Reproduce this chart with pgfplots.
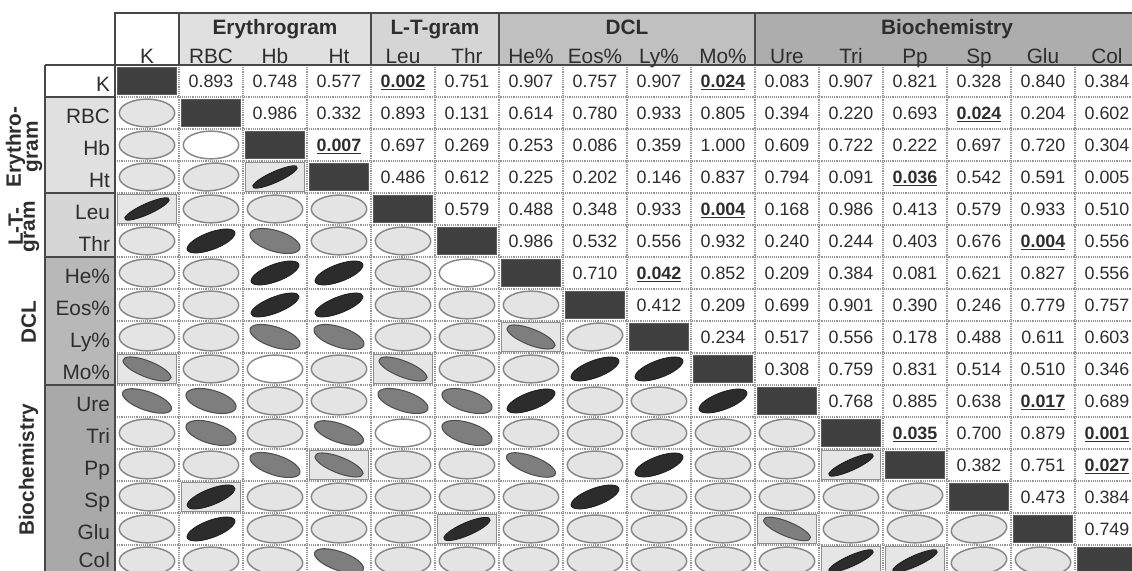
\documentclass[border=0pt]{standalone}
\usepackage{pgfplots}
\pgfplotsset{compat=1.18}
\usepackage{pgfplotstable}
\usepackage{fontspec}
\setmainfont{Liberation Sans}
\definecolor{txt}{HTML}{2E2E2E}
\definecolor{frame}{HTML}{484848}
\definecolor{gridc}{HTML}{949494}
\definecolor{ellL}{HTML}{E4E4E4}
\definecolor{ellLd}{HTML}{878787}
\definecolor{ellW}{HTML}{FFFFFF}
\definecolor{ellM}{HTML}{7E7E7E}
\definecolor{ellMd}{HTML}{505050}
\definecolor{ellD}{HTML}{2C2C2C}
\definecolor{ellDd}{HTML}{1E1E1E}
\definecolor{diag}{HTML}{404040}
\definecolor{diagd}{HTML}{5C5C5C}
\definecolor{hbox}{HTML}{E6E6E6}
\definecolor{hboxd}{HTML}{8E8E8E}
\definecolor{gE}{HTML}{E0E0E0}
\definecolor{gL}{HTML}{D5D5D5}
\definecolor{gD}{HTML}{C0C0C0}
\definecolor{gB}{HTML}{ADADAD}
\definecolor{lL}{HTML}{D6D6D6}
\definecolor{lD}{HTML}{B8B8B8}
\definecolor{lB}{HTML}{A9A9A9}

\newcommand{\numfont}{\fontsize{13.4pt}{15pt}\selectfont}
\newcommand{\labfont}{\fontsize{15.6pt}{18pt}\selectfont}
\newcommand{\grpfont}{\fontsize{15.6pt}{18pt}\selectfont\bfseries}

% p-values (upper triangle): x = column, y = row
\pgfplotstableread{
x y p
1 0 0.893
2 0 0.748
3 0 0.577
5 0 0.751
6 0 0.907
7 0 0.757
8 0 0.907
10 0 0.083
11 0 0.907
12 0 0.821
13 0 0.328
14 0 0.840
15 0 0.384
2 1 0.986
3 1 0.332
4 1 0.893
5 1 0.131
6 1 0.614
7 1 0.780
8 1 0.933
9 1 0.805
10 1 0.394
11 1 0.220
12 1 0.693
14 1 0.204
15 1 0.602
4 2 0.697
5 2 0.269
6 2 0.253
7 2 0.086
8 2 0.359
9 2 1.000
10 2 0.609
11 2 0.722
12 2 0.222
13 2 0.697
14 2 0.720
15 2 0.304
4 3 0.486
5 3 0.612
6 3 0.225
7 3 0.202
8 3 0.146
9 3 0.837
10 3 0.794
11 3 0.091
13 3 0.542
14 3 0.591
15 3 0.005
5 4 0.579
6 4 0.488
7 4 0.348
8 4 0.933
10 4 0.168
11 4 0.986
12 4 0.413
13 4 0.579
14 4 0.933
15 4 0.510
6 5 0.986
7 5 0.532
8 5 0.556
9 5 0.932
10 5 0.240
11 5 0.244
12 5 0.403
13 5 0.676
15 5 0.556
7 6 0.710
9 6 0.852
10 6 0.209
11 6 0.384
12 6 0.081
13 6 0.621
14 6 0.827
15 6 0.556
8 7 0.412
9 7 0.209
10 7 0.699
11 7 0.901
12 7 0.390
13 7 0.246
14 7 0.779
15 7 0.757
9 8 0.234
10 8 0.517
11 8 0.556
12 8 0.178
13 8 0.488
14 8 0.611
15 8 0.603
10 9 0.308
11 9 0.759
12 9 0.831
13 9 0.514
14 9 0.510
15 9 0.346
11 10 0.768
12 10 0.885
13 10 0.638
15 10 0.689
13 11 0.700
14 11 0.879
13 12 0.382
14 12 0.751
14 13 0.473
15 13 0.384
15 14 0.749
}\pvals

\pgfplotstableread{
x y p
4 0 0.002
9 0 0.024
13 1 0.024
3 2 0.007
12 3 0.036
9 4 0.004
14 5 0.004
8 6 0.042
14 10 0.017
12 11 0.035
15 11 0.001
15 12 0.027
}\psig

% ellipses: x y r(tilt) s(size)
\pgfplotstableread{
x y r s
0 1 0 10.4
0 2 0 10.4
0 3 0 10.4
1 3 0.15 10.4
1 4 0 10.4
2 4 0 10.4
3 4 0 10.4
0 5 0 10.4
3 5 0 10.4
4 5 0 10.4
0 6 0 10.4
1 6 0 10.4
4 6 0 10.4
0 7 0 10.4
1 7 0 10.4
4 7 0 10.4
5 7 0 10.4
6 7 0 10.4
0 8 0 10.4
1 8 0 10.4
4 8 0 10.4
5 8 0 10.4
7 8 0.15 10.4
1 9 0 10.4
3 9 0 10.4
5 9 0 10.4
6 9 0 10.4
2 10 0 10.4
3 10 0 10.4
7 10 0 10.4
8 10 0 10.4
0 11 0 10.4
2 11 0 10.4
6 11 0 10.4
7 11 0 10.4
8 11 0 10.4
9 11 0 10.4
10 11 0 10.4
0 12 0 10.4
1 12 0 10.4
4 12 0 10.4
5 12 0 10.4
7 12 0 10.4
9 12 0 10.4
10 12 0 10.4
0 13 -0.1 10.4
2 13 0 10.4
3 13 0 10.4
4 13 0 10.4
5 13 0 10.4
6 13 0 10.4
8 13 0 10.4
9 13 0 10.4
10 13 0 10.4
11 13 0 10.4
12 13 0.15 10.4
0 14 0 10.4
2 14 0 10.4
3 14 0 10.4
4 14 0 10.4
6 14 0 10.4
7 14 0 10.4
8 14 0 10.4
9 14 0 10.4
11 14 0 10.4
12 14 0 10.4
13 14 0.15 10.4
0 15 0 10.4
1 15 0 10.4
2 15 -0.15 10.4
4 15 0 10.4
5 15 0 10.4
6 15 0 10.4
7 15 0 10.4
8 15 0 10.4
9 15 0 10.4
10 15 0 10.4
13 15 0.15 10.4
14 15 -0.1 10.4
}\ellLight

\pgfplotstableread{
x y r s
1 2 0 10.4
5 6 0 10.4
2 9 0 10.4
4 11 0 10.4
}\ellWhite

\pgfplotstableread{
x y r s
2 5 -0.5 9.4
2 8 -0.55 9.4
3 8 -0.55 9.4
6 8 -0.7 9.0
0 9 -0.7 9.0
4 9 -0.7 9.0
0 10 -0.6 9.2
1 10 -0.45 9.4
4 10 -0.55 9.4
5 10 -0.5 9.4
1 11 -0.5 9.4
3 11 -0.6 9.2
5 11 -0.5 9.4
2 12 -0.55 9.4
3 12 -0.7 9.0
6 12 -0.65 9.2
10 14 -0.75 8.8
3 15 -0.6 9.2
}\ellMid

\pgfplotstableread{
x y r s
2 3 0.85 8.4
0 4 0.85 8.4
1 5 0.65 9.0
2 6 0.65 9.0
3 6 0.65 9.0
2 7 0.7 9.0
3 7 0.7 9.0
7 9 0.65 9.0
8 9 0.65 9.0
6 10 0.65 9.0
9 10 0.65 9.0
8 12 0.65 9.0
11 12 0.85 8.4
1 13 0.7 9.0
7 13 0.65 9.0
1 14 0.65 9.0
5 14 0.8 8.7
11 15 0.85 8.4
12 15 0.85 8.4
}\ellDark

\pgfplotstableread{
x y
2 3
0 4
6 8
0 9
4 9
3 12
11 12
1 13
5 14
10 14
11 15
12 15
}\hiboxes

\pgfplotstableread{
x y
0 0
1 1
2 2
3 3
4 4
5 5
6 6
7 7
8 8
9 9
10 10
11 11
12 12
13 13
14 14
15 15
}\diagcells

\pgfplotsset{
  ellstyle/.style 2 args={scatter, only marks, mark=*, mark size=1pt, line width=1.1pt,
    scatter/use mapped color={draw=#1, fill=#2},
    visualization depends on={\thisrow{r} \as \ellr},
    visualization depends on={\thisrow{s} \as \ells},
    scatter/@pre marker code/.append style={/tikz/xscale=2,/tikz/rotate=45,
      /tikz/xscale={\ells*sqrt(1+(\ellr))},/tikz/yscale={\ells*sqrt(1-(\ellr))}}},
}

\begin{document}
\begin{tikzpicture}
\begin{axis}[
  scale only axis, width=768pt, height=384pt,
  xmin=-0.5, xmax=15.5, ymin=-0.5, ymax=15.5,
  y dir=reverse, enlargelimits=false, clip=false,
  axis line style={draw=none},
  major tick length=0pt,
  xtick={0.5,1.5,...,15.5}, ytick={0.5,1.5,...,15.5},
  xticklabels={}, yticklabels={},
  xmajorgrids, ymajorgrids,
  major grid style={densely dotted, gridc, line width=0.8pt},
]
% header backgrounds
\fill[white] (axis cs:-0.5,-2.125) rectangle (axis cs:0.5,-0.5);
\fill[gE] (axis cs:0.5,-2.125) rectangle (axis cs:3.5,-0.5);
\fill[gL] (axis cs:3.5,-2.125) rectangle (axis cs:5.5,-0.5);
\fill[gD] (axis cs:5.5,-2.125) rectangle (axis cs:9.5,-0.5);
\fill[gB] (axis cs:9.5,-2.125) rectangle (axis cs:16,-0.5);
% label column backgrounds
\fill[white] (axis cs:-1.594,-0.5) rectangle (axis cs:-0.5,0.5);
\fill[gE] (axis cs:-1.594,0.5) rectangle (axis cs:-0.5,3.5);
\fill[lL] (axis cs:-1.594,3.5) rectangle (axis cs:-0.5,5.5);
\fill[lD] (axis cs:-1.594,5.5) rectangle (axis cs:-0.5,9.5);
\fill[lB] (axis cs:-1.594,9.5) rectangle (axis cs:-0.5,16);

% highlighted cells and diagonal
\addplot[only marks, mark=square*, mark size=10.9pt,
  mark options={xscale=2.03, fill=hbox, draw=hboxd, line width=0.8pt}] table[x=x,y=y] {\hiboxes};
\addplot[only marks, mark=square*, mark size=10.2pt,
  mark options={xscale=2.15, fill=diag, draw=diagd, line width=0.6pt}] table[x=x,y=y] {\diagcells};

% ellipses
\addplot[ellstyle={ellLd}{ellL}] table[x=x,y=y] {\ellLight};
\addplot[ellstyle={ellLd}{ellW}] table[x=x,y=y] {\ellWhite};
\addplot[ellstyle={ellMd}{ellM}, line width=0.8pt] table[x=x,y=y] {\ellMid};
\addplot[ellstyle={ellDd}{ellD}, line width=0.6pt] table[x=x,y=y] {\ellDark};

% p-values
\addplot[draw=none, mark=none, point meta=explicit symbolic, nodes near coords,
  every node near coord/.append style={anchor=base, yshift=-4.6pt, inner sep=0pt,
    font=\numfont, text=txt}] table[x=x,y=y,meta=p] {\pvals};
\addplot[draw=none, mark=none, point meta=explicit symbolic,
  nodes near coords={\underline{\textbf{\pgfplotspointmeta}}},
  every node near coord/.append style={anchor=base, yshift=-4.6pt, inner sep=0pt,
    font=\numfont, text=txt}] table[x=x,y=y,meta=p] {\psig};

% frame lines
\draw[frame, line width=1.6pt] (axis cs:16,-2.125) -- (axis cs:-0.5,-2.125) -- (axis cs:-0.5,16);
\draw[frame, line width=1.6pt] (axis cs:-1.594,-0.5) -- (axis cs:16,-0.5);
\draw[frame, line width=1.6pt] (axis cs:-1.594,-0.5) -- (axis cs:-1.594,16);
\draw[frame, line width=1.2pt] (axis cs:0.5,-2.125) -- (axis cs:0.5,-0.5);
\draw[frame, line width=1.2pt] (axis cs:3.5,-2.125) -- (axis cs:3.5,-0.5);
\draw[frame, line width=1.2pt] (axis cs:5.5,-2.125) -- (axis cs:5.5,-0.5);
\draw[frame, line width=1.2pt] (axis cs:9.5,-2.125) -- (axis cs:9.5,-0.5);
\draw[frame, line width=1.2pt] (axis cs:-1.594,0.5) -- (axis cs:-0.5,0.5);
\draw[frame, line width=1.2pt] (axis cs:-1.594,3.5) -- (axis cs:-0.5,3.5);
\draw[frame, line width=1.2pt] (axis cs:-1.594,5.5) -- (axis cs:-0.5,5.5);
\draw[frame, line width=1.2pt] (axis cs:-1.594,9.5) -- (axis cs:-0.5,9.5);

% group titles (top)
\node[anchor=base, font=\grpfont, text=txt, inner sep=0pt] at (axis cs:2,-1.4375) {Erythrogram};
\node[anchor=base, font=\grpfont, text=txt, inner sep=0pt] at (axis cs:4.5,-1.4375) {L-T-gram};
\node[anchor=base, font=\grpfont, text=txt, inner sep=0pt] at (axis cs:7.5,-1.4375) {DCL};
\node[anchor=base, font=\grpfont, text=txt, inner sep=0pt] at (axis cs:12.5,-1.4375) {Biochemistry};

% column names
\node[anchor=base, font=\labfont, text=txt, inner sep=0pt] at (axis cs:0,-0.553) {K};
\node[anchor=base, font=\labfont, text=txt, inner sep=0pt] at (axis cs:1,-0.553) {RBC};
\node[anchor=base, font=\labfont, text=txt, inner sep=0pt] at (axis cs:2,-0.553) {Hb};
\node[anchor=base, font=\labfont, text=txt, inner sep=0pt] at (axis cs:3,-0.553) {Ht};
\node[anchor=base, font=\labfont, text=txt, inner sep=0pt] at (axis cs:4,-0.553) {Leu};
\node[anchor=base, font=\labfont, text=txt, inner sep=0pt] at (axis cs:5,-0.553) {Thr};
\node[anchor=base, font=\labfont, text=txt, inner sep=0pt] at (axis cs:6,-0.553) {He\%};
\node[anchor=base, font=\labfont, text=txt, inner sep=0pt] at (axis cs:7,-0.553) {Eos\%};
\node[anchor=base, font=\labfont, text=txt, inner sep=0pt] at (axis cs:8,-0.553) {Ly\%};
\node[anchor=base, font=\labfont, text=txt, inner sep=0pt] at (axis cs:9,-0.553) {Mo\%};
\node[anchor=base, font=\labfont, text=txt, inner sep=0pt] at (axis cs:10,-0.553) {Ure};
\node[anchor=base, font=\labfont, text=txt, inner sep=0pt] at (axis cs:11,-0.553) {Tri};
\node[anchor=base, font=\labfont, text=txt, inner sep=0pt] at (axis cs:12,-0.553) {Pp};
\node[anchor=base, font=\labfont, text=txt, inner sep=0pt] at (axis cs:13,-0.553) {Sp};
\node[anchor=base, font=\labfont, text=txt, inner sep=0pt] at (axis cs:14,-0.553) {Glu};
\node[anchor=base, font=\labfont, text=txt, inner sep=0pt] at (axis cs:15,-0.553) {Col};

% row names
\node[anchor=base east, font=\labfont, text=txt, inner sep=0pt] at (axis cs:-0.575,0.33) {K};
\node[anchor=base east, font=\labfont, text=txt, inner sep=0pt] at (axis cs:-0.575,1.33) {RBC};
\node[anchor=base east, font=\labfont, text=txt, inner sep=0pt] at (axis cs:-0.575,2.33) {Hb};
\node[anchor=base east, font=\labfont, text=txt, inner sep=0pt] at (axis cs:-0.575,3.33) {Ht};
\node[anchor=base east, font=\labfont, text=txt, inner sep=0pt] at (axis cs:-0.575,4.33) {Leu};
\node[anchor=base east, font=\labfont, text=txt, inner sep=0pt] at (axis cs:-0.575,5.33) {Thr};
\node[anchor=base east, font=\labfont, text=txt, inner sep=0pt] at (axis cs:-0.575,6.33) {He\%};
\node[anchor=base east, font=\labfont, text=txt, inner sep=0pt] at (axis cs:-0.575,7.33) {Eos\%};
\node[anchor=base east, font=\labfont, text=txt, inner sep=0pt] at (axis cs:-0.575,8.33) {Ly\%};
\node[anchor=base east, font=\labfont, text=txt, inner sep=0pt] at (axis cs:-0.575,9.33) {Mo\%};
\node[anchor=base east, font=\labfont, text=txt, inner sep=0pt] at (axis cs:-0.575,10.33) {Ure};
\node[anchor=base east, font=\labfont, text=txt, inner sep=0pt] at (axis cs:-0.575,11.33) {Tri};
\node[anchor=base east, font=\labfont, text=txt, inner sep=0pt] at (axis cs:-0.575,12.33) {Pp};
\node[anchor=base east, font=\labfont, text=txt, inner sep=0pt] at (axis cs:-0.575,13.33) {Sp};
\node[anchor=base east, font=\labfont, text=txt, inner sep=0pt] at (axis cs:-0.575,14.33) {Glu};
\node[anchor=base east, font=\labfont, text=txt, inner sep=0pt] at (axis cs:-0.575,15.19) {Col};

% rotated group labels (left)
\node[rotate=90, align=center, font=\fontsize{15.6pt}{9pt}\selectfont\bfseries, text=txt, inner sep=0pt]
  at (axis cs:-1.922,2.06) {Erythro-\\gram};
\node[rotate=90, align=center, font=\fontsize{15.6pt}{9pt}\selectfont\bfseries, text=txt, inner sep=0pt]
  at (axis cs:-1.922,4.56) {L-T-\\gram};
\node[rotate=90, font=\grpfont, text=txt, inner sep=0pt] at (axis cs:-1.85,7.53) {DCL};
\node[rotate=90, font=\grpfont, text=txt, inner sep=0pt] at (axis cs:-1.85,12.16) {Biochemistry};

\coordinate (bbA) at (axis cs:-2.297,-2.531);
\coordinate (bbB) at (axis cs:15.391,15.3125);
\end{axis}
\pgfresetboundingbox
\useasboundingbox (bbA) rectangle (bbB);
\end{tikzpicture}
\end{document}
